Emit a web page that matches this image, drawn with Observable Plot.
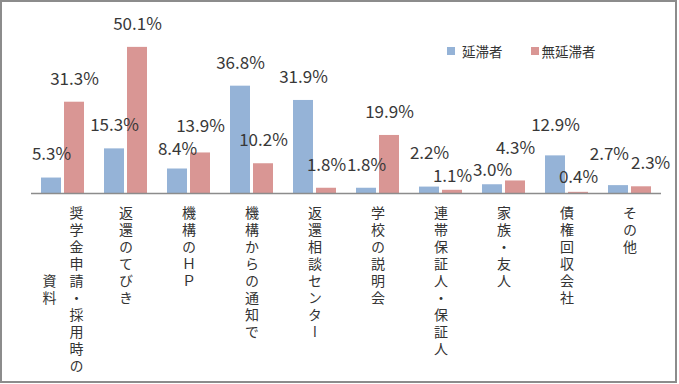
<!DOCTYPE html>
<html><head><meta charset="utf-8">
<script src="https://cdn.jsdelivr.net/npm/d3@7"></script>
<script src="https://cdn.jsdelivr.net/npm/@observablehq/plot@0.6"></script>
<style>
body{margin:0;background:#fff;}
#wrap{position:relative;width:679px;height:384px;overflow:hidden;background:#fff;}
#border{position:absolute;left:0;top:0;width:673px;height:379px;border:2px solid #8c8c8c;pointer-events:none;}
#legend{position:absolute;left:447px;top:41px;height:20px;display:flex;align-items:center;font-family:"Noto Sans CJK JP";font-size:13.5px;color:#333;white-space:nowrap;}
#legend .sw{display:inline-block;width:8px;height:8px;}
</style></head>
<body>
<div id="wrap"><div id="chart"></div><div id="legend"></div><div id="border"></div></div>
<script>
const categories = ["奨学金申請・採用時の資料","返還のてびき","機構のＨＰ","機構からの通知で","返還相談センター","学校の説明会","連帯保証人・保証人","家族・友人","債権回収会社","その他"];
const seriesNames = ["延滞者","無延滞者"];
const delinquent = [5.3,15.3,8.4,36.8,31.9,1.8,2.2,3.0,12.9,2.7];
const nonDelinquent = [31.3,50.1,13.9,10.2,1.8,19.9,1.1,4.3,0.4,2.3];
const colors = ["#95B3D7","#D99694"];

const rows = categories.flatMap((c,i)=>[
  {cat:c, series:seriesNames[0], value:delinquent[i]},
  {cat:c, series:seriesNames[1], value:nonDelinquent[i]}
]);
const COL = 10;
const single = categories.filter(c=>c.length<=COL);
const wrapped = categories.filter(c=>c.length>COL);

const font = '"Noto Sans CJK JP", "Noto Sans", sans-serif';
const plot = Plot.plot({
  width:679, height:384,
  marginLeft:29, marginRight:17, marginTop:18, marginBottom:191,
  fx:{domain:categories, padding:0, axis:null, label:null},
  x:{domain:seriesNames, paddingInner:0.15, paddingOuter:0.42, axis:null},
  y:{domain:[0,60], axis:null},
  color:{domain:seriesNames, range:colors},
  style:{fontFamily:font, background:"transparent", overflow:"visible"},
  marks:[
    Plot.barY(rows,{fx:"cat", x:"series", y:"value", fill:"series"}),
    Plot.ruleY([0],{stroke:"#8c8c8c", strokeWidth:1.5}),
    Plot.text(rows,{fx:"cat", x:"series", y:"value", text:d=>d.value.toFixed(1)+"%", dy:-23, fontSize:17, fill:"#383838", className:"vlab"}),
    Plot.text(single,{fx:d=>d, frameAnchor:"bottom", text:d=>d, dy:12, textAnchor:"start", fill:"#333", className:"vcol"}),
    Plot.text(wrapped,{fx:d=>d, frameAnchor:"bottom", text:d=>d.slice(0,COL), dx:13.5, dy:12, textAnchor:"start", fill:"#333", className:"vcol"}),
    Plot.text(wrapped,{fx:d=>d, frameAnchor:"bottom", text:d=>d.slice(COL), dx:-13.5, dy:12+COL*17/2, textAnchor:"middle", fill:"#333", className:"vcol"})
  ]
});
document.getElementById("chart").appendChild(plot);

d3.select(plot).selectAll(".vcol text")
  .attr("y", null).attr("dy", null)
  .style("writing-mode","vertical-rl")
  .style("letter-spacing","3px")
  .style("font-size","14px");

// legend
const lg = d3.select("#legend");
seriesNames.forEach((s,i)=>{
  lg.append("span").attr("class","sw").style("background",colors[i]).style("margin-left", i? "28px":"0").style("margin-right", i? "3px":"7px");
  lg.append("span").text(s);
});

// resolve overlapping value labels (horizontal for similar values, vertical otherwise)
const labs = Array.from(plot.querySelectorAll(".vlab text"));
const vals = rows.map(r=>r.value);
const sx = labs.map(()=>0), sy = labs.map(()=>0);
const orig = labs.map(el=>el.getAttribute("transform")||"");
const SEP = 23, MAXDOWN = 9;
for (let iter=0; iter<8; iter++) {
  const rects = labs.map(el=>el.getBoundingClientRect());
  let moved=false;
  for (let i=0;i<labs.length;i++) for (let j=i+1;j<labs.length;j++) {
    const a=rects[i], b=rects[j];
    const cya=(a.top+a.bottom)/2, cyb=(b.top+b.bottom)/2;
    const dyy=Math.abs(cya-cyb);
    const ox = Math.min(a.right,b.right)-Math.max(a.left,b.left);
    if (dyy<SEP-0.5 && ox>0) {
      if (Math.abs(vals[i]-vals[j])>=0.5) {
        const need=SEP-dyy;
        const [hi,lo] = vals[i]>vals[j]?[i,j]:[j,i];
        const down = Math.max(0, Math.min(need/2, MAXDOWN - sy[lo]));
        sy[lo]+=down; sy[hi]-=need-down;
      } else {
        const amt=(ox+2)/2;
        const [l,r] = a.left<b.left?[i,j]:[j,i];
        sx[l]-=amt; sx[r]+=amt;
      }
      moved=true;
    }
  }
  labs.forEach((el,k)=>el.setAttribute("transform", `translate(${sx[k]},${sy[k]}) ${orig[k]}`));
  if(!moved) break;
}
</script>
</body></html>
